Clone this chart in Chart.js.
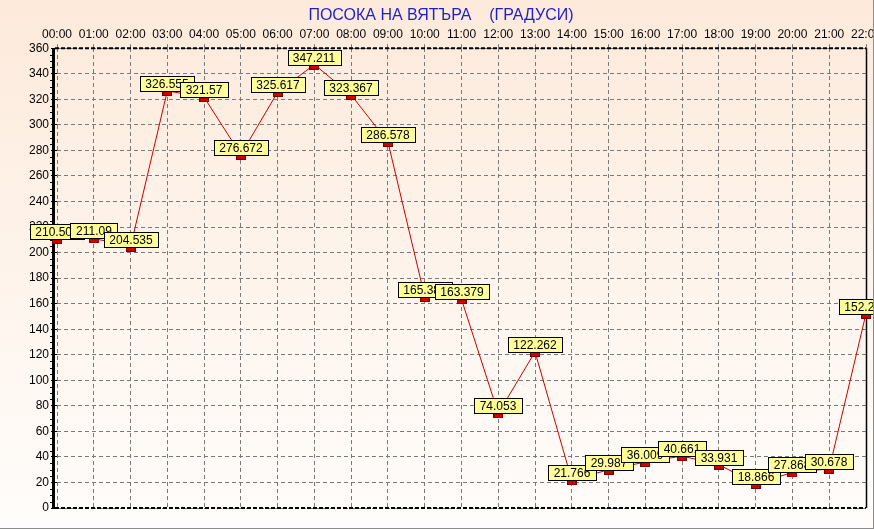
<!DOCTYPE html>
<html>
<head>
<meta charset="utf-8">
<script src="https://cdn.jsdelivr.net/npm/chart.js@4"></script>
<style>
  html, body { margin: 0; padding: 0; }
  body { width: 874px; height: 529px; overflow: hidden; }
  #wrap {
    position: relative; width: 874px; height: 529px; overflow: hidden;
    background: linear-gradient(#fdeadb, #fffdfb);
  }
  #wrap:after {
    content: ''; position: absolute; left: 0; top: 0; right: 0; bottom: 0;
    border-right: 1px solid #8c8c8c; border-bottom: 1px solid #8c8c8c;
  }
</style>
</head>
<body>
<div id="wrap"><canvas id="windChart" width="874" height="529"></canvas></div>
<script>
// Wind direction (degrees) by hour
const hours = ['00:00', '01:00', '02:00', '03:00', '04:00', '05:00', '06:00', '07:00', '08:00', '09:00', '10:00', '11:00',
  '12:00', '13:00', '14:00', '15:00', '16:00', '17:00', '18:00', '19:00', '20:00', '21:00', '22:00'];
const direction = [210.508, 211.09, 204.535, 326.555, 321.57, 276.672, 325.617, 347.211, 323.367, 286.578, 165.387, 163.379,
  74.053, 122.262, 21.766, 29.987, 36.009, 40.661, 33.931, 18.866, 27.868, 30.678, 152.234];
const yTicks = [0, 20, 40, 60, 80, 100, 120, 140, 160, 180, 200, 220, 240, 260, 280, 300, 320, 340, 360];

// small red block that hangs just under the value
const marker = document.createElement('canvas');
marker.width = 10;
marker.height = 10;
const mctx = marker.getContext('2d');
mctx.fillStyle = '#7a0000';
mctx.fillRect(0, 5, 10, 5);
mctx.fillStyle = '#d40000';
mctx.fillRect(1, 6, 8, 3);

// yellow value boxes + heavy axes, like the old chart control
const valueBoxes = {
  id: 'valueBoxes',
  beforeDatasetsDraw(chart) {
    const { ctx, chartArea: a } = chart;
    ctx.save();
    // minor ticks on the left axis
    const y = chart.scales.y;
    ctx.strokeStyle = '#000';
    ctx.lineWidth = 1;
    for (let v = 0; v <= 360; v += 5) {
      if (v % 20 === 0) continue;
      const py = Math.round(y.getPixelForValue(v)) + 0.5;
      ctx.beginPath();
      ctx.moveTo(a.left - 7, py);
      ctx.lineTo(a.left - 4, py);
      ctx.stroke();
    }
    // left axis, heavy
    ctx.lineWidth = 3;
    ctx.beginPath();
    ctx.moveTo(a.left - 3.5, a.top);
    ctx.lineTo(a.left - 3.5, a.bottom + 1);
    ctx.stroke();
    // top and bottom dashed axes
    ctx.lineWidth = 2;
    ctx.setLineDash([4, 2]);
    ctx.beginPath();
    ctx.moveTo(a.left - 2, a.top);
    ctx.lineTo(a.right, a.top);
    ctx.moveTo(a.left - 2, a.bottom);
    ctx.lineTo(a.right, a.bottom);
    ctx.stroke();
    ctx.setLineDash([]);
    // right border
    ctx.lineWidth = 1.5;
    ctx.beginPath();
    ctx.moveTo(a.right + 0.5, a.top);
    ctx.lineTo(a.right + 0.5, a.bottom);
    ctx.stroke();
    ctx.restore();
  },
  afterDatasetsDraw(chart) {
    const { ctx } = chart;
    const meta = chart.getDatasetMeta(0);
    ctx.save();
    ctx.font = '12px "Liberation Sans", Arial, sans-serif';
    ctx.textAlign = 'center';
    ctx.textBaseline = 'middle';
    meta.data.forEach((pt, i) => {
      const txt = String(direction[i]);
      const w = Math.round(ctx.measureText(txt).width) + 11;
      const h = 15;
      const x = Math.round(pt.x - w / 2) + 0.5;
      const yTop = Math.round(pt.y) - h + 0.5;
      ctx.fillStyle = '#ffff99';
      ctx.fillRect(x, yTop, w, h);
      ctx.strokeStyle = '#000';
      ctx.lineWidth = 1;
      ctx.strokeRect(x, yTop, w, h);
      ctx.fillStyle = '#000';
      ctx.fillText(txt, Math.round(pt.x), yTop + h / 2 + 1);
    });
    ctx.restore();
  }
};

new Chart(document.getElementById('windChart'), {
  type: 'line',
  data: {
    labels: hours,
    datasets: [{
      data: direction,
      borderColor: '#cc0000',
      borderWidth: 1,
      tension: 0,
      pointStyle: marker,
      pointRadius: 5,
      pointHoverRadius: 5
    }]
  },
  options: {
    responsive: false,
    animation: false,
    events: [],
    layout: { padding: { left: 16, right: 8, top: 0, bottom: 21 } },
    plugins: {
      legend: { display: false },
      tooltip: { enabled: false },
      title: {
        display: true,
        text: 'ПОСОКА НА ВЯТЪРА    (ГРАДУСИ)',
        color: '#1f1fc8',
        font: { family: '"Liberation Sans", Arial, sans-serif', size: 16, weight: 'normal' },
        padding: { top: 6, bottom: 4 }
      }
    },
    scales: {
      x: {
        position: 'top',
        offset: false,
        afterFit: (s) => { s.height = 19; s.paddingLeft = 0; s.paddingRight = 0; },
        grid: {
          color: '#7a7a7a',
          lineWidth: 1,
          tickLength: 4,
          tickColor: '#7a7a7a',
          drawOnChartArea: true
        },
        border: { display: false, dash: [4, 3] },
        ticks: {
          color: '#000',
          padding: 2,
          maxRotation: 0,
          autoSkip: false,
          font: { family: '"Liberation Sans", Arial, sans-serif', size: 12 }
        }
      },
      y: {
        min: 0,
        max: 360,
        afterFit: (s) => { s.width = 41; s.paddingTop = 0; s.paddingBottom = 0; },
        afterBuildTicks: (s) => { s.ticks = yTicks.map(v => ({ value: v })); },
        grid: {
          color: '#7a7a7a',
          lineWidth: 1,
          tickLength: 6,
          tickColor: '#000'
        },
        border: { display: false, dash: [4, 3] },
        ticks: {
          color: '#000',
          padding: 2,
          font: { family: '"Liberation Sans", Arial, sans-serif', size: 12 }
        }
      }
    }
  },
  plugins: [valueBoxes]
});
</script>
</body>
</html>
